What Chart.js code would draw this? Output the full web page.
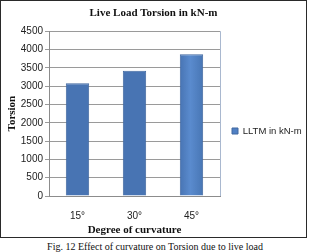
<!DOCTYPE html>
<html>
<head>
<meta charset="utf-8">
<script src="https://cdn.jsdelivr.net/npm/chart.js@4.4.1/dist/chart.umd.min.js"></script>
<style>
  html, body { margin: 0; padding: 0; background: #fff; width: 310px; height: 252px; overflow: hidden; }
  #frame { position: absolute; left: 0; top: 0; width: 305px; height: 236px; border: 1px solid #2a2a2a; }
  #caption { position: absolute; left: 0; top: 241px; width: 310px; text-align: center;
             font-family: "Liberation Serif", "DejaVu Serif", serif; font-size: 10px; color: #111; }
</style>
</head>
<body>
<div id="frame"><canvas id="chart" width="305" height="236"></canvas></div>
<div id="caption">Fig. 12 Effect of curvature on Torsion due to live load</div>
<script>
// data
const categories = ['15°', '30°', '45°'];
const lltm = [3080, 3420, 3870];
const seriesName = 'LLTM in kN-m';
const yTicks = { min: 0, max: 4500, step: 500 };

const serif = '"Liberation Serif", "DejaVu Serif", serif';
const sans = '"Liberation Sans", Arial, sans-serif';

// cylinder-ish shading for the bars, fixed legend width/offset, light border on right of plot
const shadePlugin = {
    id: 'shade',
    afterInit(chart) {
        const lg = chart.legend;
        if (!lg) return;
        const fit = lg.fit, draw = lg.draw;
        lg.fit = function () { fit.call(this); this.width = 86; };
        lg.draw = function () {
            const ctx = this.ctx;
            ctx.save();
            ctx.translate(0, 12);   // legend sits a bit below the middle in the original
            draw.apply(this, arguments);
            ctx.restore();
        };
    },
    beforeDatasetsDraw(chart) {
        const ctx = chart.ctx;
        chart.getDatasetMeta(0).data.forEach(bar => {
            const g = ctx.createLinearGradient(bar.x - bar.width / 2, 0, bar.x + bar.width / 2, 0);
            g.addColorStop(0, '#4874b3');
            g.addColorStop(0.45, '#5a8bce');
            g.addColorStop(1, '#4876b4');
            bar.options.backgroundColor = g;
        });
    },
    afterDraw(chart) {
        const a = chart.chartArea, ctx = chart.ctx;
        ctx.save();
        ctx.strokeStyle = '#a9b8cf';
        ctx.lineWidth = 1;
        ctx.beginPath();
        ctx.moveTo(Math.round(a.right) + 0.5, a.top);
        ctx.lineTo(Math.round(a.right) + 0.5, a.bottom);
        ctx.stroke();
        ctx.restore();
    }
};

new Chart(document.getElementById('chart'), {
    type: 'bar',
    data: {
        labels: categories,
        datasets: [{
            label: seriesName,
            data: lltm,
            backgroundColor: '#5080c4',
            borderColor: '#4068a0',
            borderWidth: 1,
            barPercentage: 0.41,
            categoryPercentage: 1
        }]
    },
    options: {
        responsive: false,
        animation: false,
        layout: { padding: { left: 0, right: 0, top: 0, bottom: 0 } },
        plugins: {
            title: {
                display: true,
                text: 'Live Load Torsion in kN-m',
                color: '#111',
                font: { family: serif, size: 11, weight: 'bold' },
                padding: { top: 6, bottom: 11 }
            },
            legend: {
                position: 'right',
                labels: {
                    boxWidth: 6, boxHeight: 6, padding: 12,
                    color: '#222',
                    font: { family: sans, size: 9.5 }
                }
            },
            tooltip: { enabled: false }
        },
        scales: {
            x: {
                grid: { display: false },
                border: { color: '#8c8c8c' },
                ticks: { color: '#222', font: { family: sans, size: 10 }, padding: 6 },
                title: {
                    display: true, text: 'Degree of curvature', color: '#111',
                    font: { family: serif, size: 11, weight: 'bold' }, padding: { top: 1, bottom: 0 }
                },
                afterFit(scale) { scale.height = 41; }
            },
            y: {
                min: yTicks.min, max: yTicks.max,
                grid: { color: '#9a9a9a', tickLength: 4 },
                border: { color: '#8c8c8c' },
                ticks: {
                    stepSize: yTicks.step, color: '#222', font: { family: sans, size: 10 }, padding: 2,
                    callback: v => String(v)
                },
                title: {
                    display: true, text: 'Torsion', color: '#111',
                    font: { family: serif, size: 11, weight: 'bold' }, padding: { top: 5, bottom: 0 }
                },
                afterFit(scale) { scale.width = 48; }
            }
        }
    },
    plugins: [shadePlugin]
});
</script>
</body>
</html>
